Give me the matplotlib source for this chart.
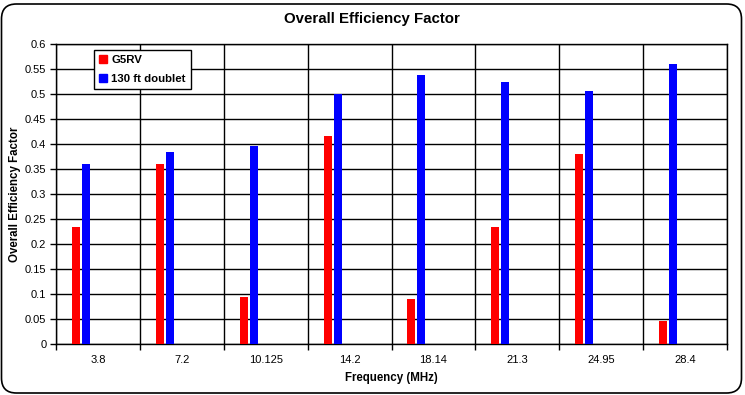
import matplotlib
matplotlib.use("Agg")
import matplotlib.pyplot as plt
from matplotlib.patches import FancyBboxPatch
from matplotlib.lines import Line2D
import numpy as np

plt.rcParams['font.family'] = ['Liberation Sans', 'DejaVu Sans']

categories = ["3.8", "7.2", "10.125", "14.2", "18.14", "21.3", "24.95", "28.4"]
g5rv = [0.235, 0.36, 0.095, 0.415, 0.091, 0.233, 0.38, 0.047]
doublet = [0.36, 0.383, 0.395, 0.50, 0.537, 0.523, 0.505, 0.559]
series_names = ["G5RV", "130 ft doublet"]
yticks = [round(0.05 * i, 2) for i in range(13)]
ytick_labels = ["0", "0.05", "0.1", "0.15", "0.2", "0.25", "0.3", "0.35", "0.4", "0.45", "0.5", "0.55", "0.6"]

W, H = 745, 395
fig = plt.figure(figsize=(W / 100, H / 100), dpi=100)
fig.patch.set_facecolor("white")

# outer rounded border
border = FancyBboxPatch((1.5 / W, 2 / H), (W - 5) / W, (H - 6) / H,
                        boxstyle="round,pad=0,rounding_size=0.02",
                        transform=fig.transFigure, fill=False,
                        edgecolor="black", linewidth=1.2, mutation_aspect=W / H)
fig.patches.append(border)

ax = fig.add_axes([56 / W, (H - 344) / H, 671 / W, 300 / H])
ax.set_facecolor("white")

x = np.arange(len(categories))
bw = 8 / 83.75
ax.bar(x - 22 / 83.75, g5rv, width=bw, color="#ff0000", zorder=3, linewidth=0)
ax.bar(x - 12 / 83.75, doublet, width=bw, color="#0000ff", zorder=3, linewidth=0)

ax.set_xlim(-0.5, len(categories) - 0.5)
ax.set_ylim(0, 0.6)

ax.set_yticks(yticks)
ax.set_yticklabels(ytick_labels, fontsize=8)
ax.set_xticks(np.arange(len(categories) + 1) - 0.5)
ax.set_xticklabels([""] * (len(categories) + 1))
ax.set_xticks(x, minor=True)
ax.set_xticklabels(categories, minor=True, fontsize=8)
ax.tick_params(axis="x", which="minor", length=0, pad=8)
ax.tick_params(axis="both", which="major", direction="out", length=4, width=1, color="black")
ax.tick_params(axis="y", pad=3)

ax.grid(True, which="major", color="black", linewidth=1, zorder=1)
ax.set_axisbelow(True)
for s in ax.spines.values():
    s.set_color("black")
    s.set_linewidth(1)

ax.set_xlabel("Frequency (MHz)", fontsize=8.3, fontweight="bold", labelpad=5)
ax.set_ylabel("Overall Efficiency Factor", fontsize=8.3, fontweight="bold")
ax.yaxis.set_label_coords((21 - 56) / 671, 0.5)
fig.text(372 / W, 1 - 18.5 / H, "Overall Efficiency Factor", ha="center", va="center",
         fontsize=10.8, fontweight="bold")

handles = [Line2D([], [], marker="s", linestyle="none", markersize=5.5, color="#ff0000"),
           Line2D([], [], marker="s", linestyle="none", markersize=5.5, color="#0000ff")]
leg = ax.legend(handles, series_names, loc="upper left",
                bbox_to_anchor=((94 - 56) / 671, (344 - 50) / 300),
                borderaxespad=0, fancybox=False, framealpha=1, edgecolor="black",
                prop={"weight": "bold", "size": 8.2}, handlelength=0.6,
                handletextpad=0.45, borderpad=0.45, labelspacing=0.8)
leg.get_frame().set_linewidth(1)
leg.set_zorder(5)

fig.savefig("out.png", dpi=100, facecolor="white")
